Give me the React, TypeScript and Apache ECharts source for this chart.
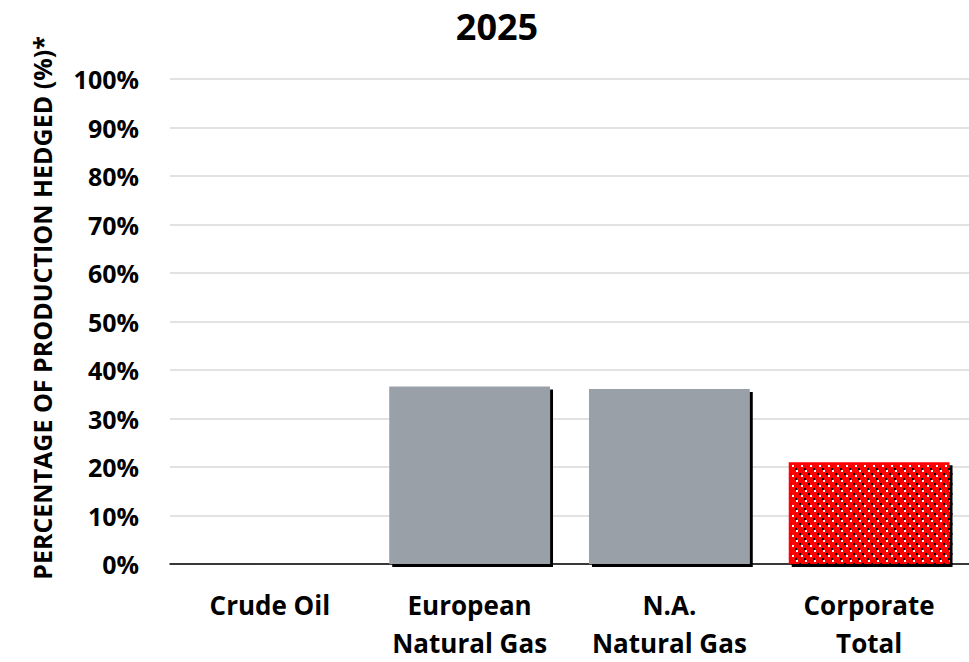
import React, { useEffect, useRef } from "react";
import * as echarts from "echarts";

const categories = ["Crude Oil", "European\nNatural Gas", "N.A.\nNatural Gas", "Corporate\nTotal"];
const hedgedValues = [0, 36.6, 36.1, 21.0];
const yTicks = [0, 10, 20, 30, 40, 50, 60, 70, 80, 90, 100];
const titleText = "2025";
const yAxisTitle = "PERCENTAGE OF PRODUCTION HEDGED (%)*";

const FONT = "'Open Sans', 'Noto Sans', sans-serif";

export default function App() {
  const ref = useRef<HTMLDivElement>(null);
  useEffect(() => {
    if (!ref.current) return;
    const chart = echarts.init(ref.current, undefined, { renderer: "svg" });
    const gray = "#9AA0A7";
    const red = "#FF0000";
    const shadow = { shadowColor: "#000", shadowOffsetX: 3, shadowOffsetY: 3, shadowBlur: 0 };
    chart.setOption({
      animation: false,
      backgroundColor: "#fff",
      graphic: [
        {
          type: "text",
          x: 497,
          y: 26,
          style: {
            text: titleText,
            fontFamily: FONT,
            fontWeight: "bold",
            fontSize: 36,
            fill: "#000",
            align: "center",
            verticalAlign: "middle",
          },
        },
        {
          type: "text",
          x: 42,
          y: 308,
          rotation: Math.PI / 2,
          style: {
            text: yAxisTitle,
            fontFamily: FONT,
            fontWeight: "bold",
            fontSize: 25,
            fill: "#000",
            align: "center",
            verticalAlign: "middle",
          },
        },
      ],
      grid: { left: 170, top: 79, width: 800, height: 488, containLabel: false },
      xAxis: {
        type: "category",
        data: categories,
        axisLine: { show: true, lineStyle: { color: "#000", width: 1.5 } },
        axisTick: { show: false },
        axisLabel: {
          interval: 0,
          margin: 22,
          fontFamily: FONT,
          fontWeight: "bold",
          fontSize: 26,
          lineHeight: 38,
          color: "#000",
        },
      },
      yAxis: {
        type: "value",
        min: yTicks[0],
        max: yTicks[yTicks.length - 1],
        interval: 10,
        axisLine: { show: false },
        axisTick: { show: false },
        splitLine: { show: true, lineStyle: { color: "#D9D9D9", width: 1.5 } },
        axisLabel: {
          margin: 31,
          fontFamily: FONT,
          fontWeight: "bold",
          fontSize: 25,
          color: "#000",
          formatter: (v: number) => `${v}%`,
        },
      },
      series: [
        {
          type: "bar",
          barCategoryGap: "19.5%",
          data: hedgedValues.map((v, i) => ({
            value: v,
            itemStyle:
              i === hedgedValues.length - 1
                ? {
                    color: red,
                    ...shadow,
                    decal: {
                      symbol: "rect",
                      symbolSize: 1,
                      color: "#fff",
                      dashArrayX: [
                        [1.3, 6.7],
                        [0, 4, 1.3, 2.7],
                      ],
                      dashArrayY: [1.3, 2.7],
                      rotation: 0,
                    },
                  }
                : { color: gray, ...shadow },
          })),
        },
      ],
    });
    return () => chart.dispose();
  }, []);
  return (
    <div
      ref={ref}
      style={{ position: "fixed", left: 0, top: 0, width: 969, height: 662, background: "#fff" }}
    />
  );
}
